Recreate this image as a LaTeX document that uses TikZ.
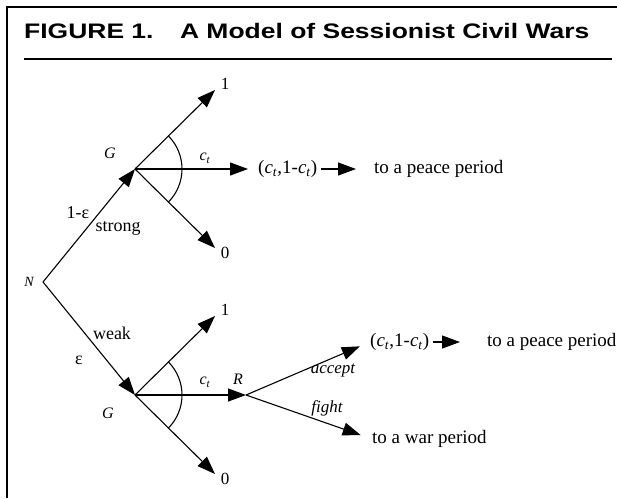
\documentclass[tikz,border=0pt]{standalone}
\usepackage{fontspec}
\setmainfont{Liberation Serif}
\newfontfamily\titlefont{Liberation Sans}
\usetikzlibrary{arrows.meta}
\newcommand{\cvar}{\textit{c}\textsubscript{\textit{t}}}

\begin{document}
\begin{tikzpicture}[x=1pt, y=-1pt,
  edge/.style={line width=1.1pt, black},
  arr/.style={edge, -{Triangle[length=18pt, width=13pt]}},
  num/.style={font=\fontsize{17}{17}\selectfont, inner sep=0pt},
  lbl/.style={font=\fontsize{18}{18}\selectfont, inner sep=0pt},
  var/.style={font=\fontsize{16}{16}\selectfont\itshape, inner sep=0pt},
  act/.style={font=\fontsize{17}{17}\selectfont\itshape, inner sep=0pt},
  result/.style={font=\fontsize{19}{19}\selectfont, inner sep=0pt, anchor=west}
]
\useasboundingbox (0,0) rectangle (617,498);

% frame and title
\draw[line width=2.5pt] (7,498) -- (7,7) -- (617,7);
\node[anchor=base west, inner sep=0pt, font=\titlefont\bfseries\fontsize{21}{22}\selectfont] (title) at (24,38)
  {\scalebox{1.26}[1]{FIGURE 1.\hspace{21pt}A Model of Sessionist Civil Wars}};
\draw[line width=2.5pt] (24,59) -- (612,59);

% decision points
\coordinate (N)  at (43,282);
\coordinate (Gs) at (135,169);
\coordinate (Gw) at (135,395);
\coordinate (R)  at (246,395);
\coordinate (s1) at (215,90);
\coordinate (s0) at (215,248);
\coordinate (w1) at (215,316);
\coordinate (w0) at (215,474);

\node[var, font=\fontsize{14}{14}\selectfont\itshape] (lN) at (29,282) {N};
\node[var] (lGs) at (110,153) {G};
\node[var] (lGw) at (108,413) {G};
\node[var] (lR)  at (238,379) {R};

% end points
\node[num] (n1s) at (225,84)  {1};
\node[num] (n0s) at (225,253) {0};
\node[num] (n1w) at (225,310) {1};
\node[num] (n0w) at (225,479) {0};

\node[result] (pay1)   at (258,169) {(\cvar,1-\cvar)};
\node[result] (peace1) at (374,169) {to a peace period};
\node[result] (pay2)   at (370,342) {(\cvar,1-\cvar)};
\node[result] (peace2) at (487,342) {to a peace period};
\node[result] (war)    at (372,439) {to a war period};

% nature's move
\draw[arr] (N) -- (Gs);
\draw[arr] (N) -- (Gw);
\node[lbl] (pStrong) at (78,213)  {1-ε};
\node[lbl] (strong)  at (118,228) {strong};
\node[lbl] (weak)    at (112,333) {weak};
\node[lbl] (pWeak)   at (79,360)  {ε};

% strong government
\draw[arr] (Gs) -- (s1);
\draw[arr] (Gs) -- (s0);
\draw[arr, shorten >=10pt] (Gs) -- (pay1.west);
\draw[edge] ([shift={(45:47)}]Gs) arc[start angle=45, end angle=-45, radius=47];
\node[var] (ct1) at (205,158) {\cvar};
\draw[arr, shorten <=4pt, shorten >=18pt] (pay1.east) -- (peace1.west);

% weak government
\draw[arr] (Gw) -- (w1);
\draw[arr] (Gw) -- (w0);
\draw[arr] (Gw) -- (R);
\draw[edge] ([shift={(45:47)}]Gw) arc[start angle=45, end angle=-45, radius=47];
\node[var] (ct2) at (205,382) {\cvar};

% rebels
\draw[arr, shorten >=11pt] (R) -- (pay2.west);
\draw[arr, shorten >=12pt] (R) -- (war.west);
\node[act] (accept) at (333,371) {accept};
\node[act] (fight)  at (327,408) {fight};
\draw[arr, shorten <=4pt, shorten >=27pt] (pay2.east) -- (peace2.west);
\end{tikzpicture}
\end{document}
